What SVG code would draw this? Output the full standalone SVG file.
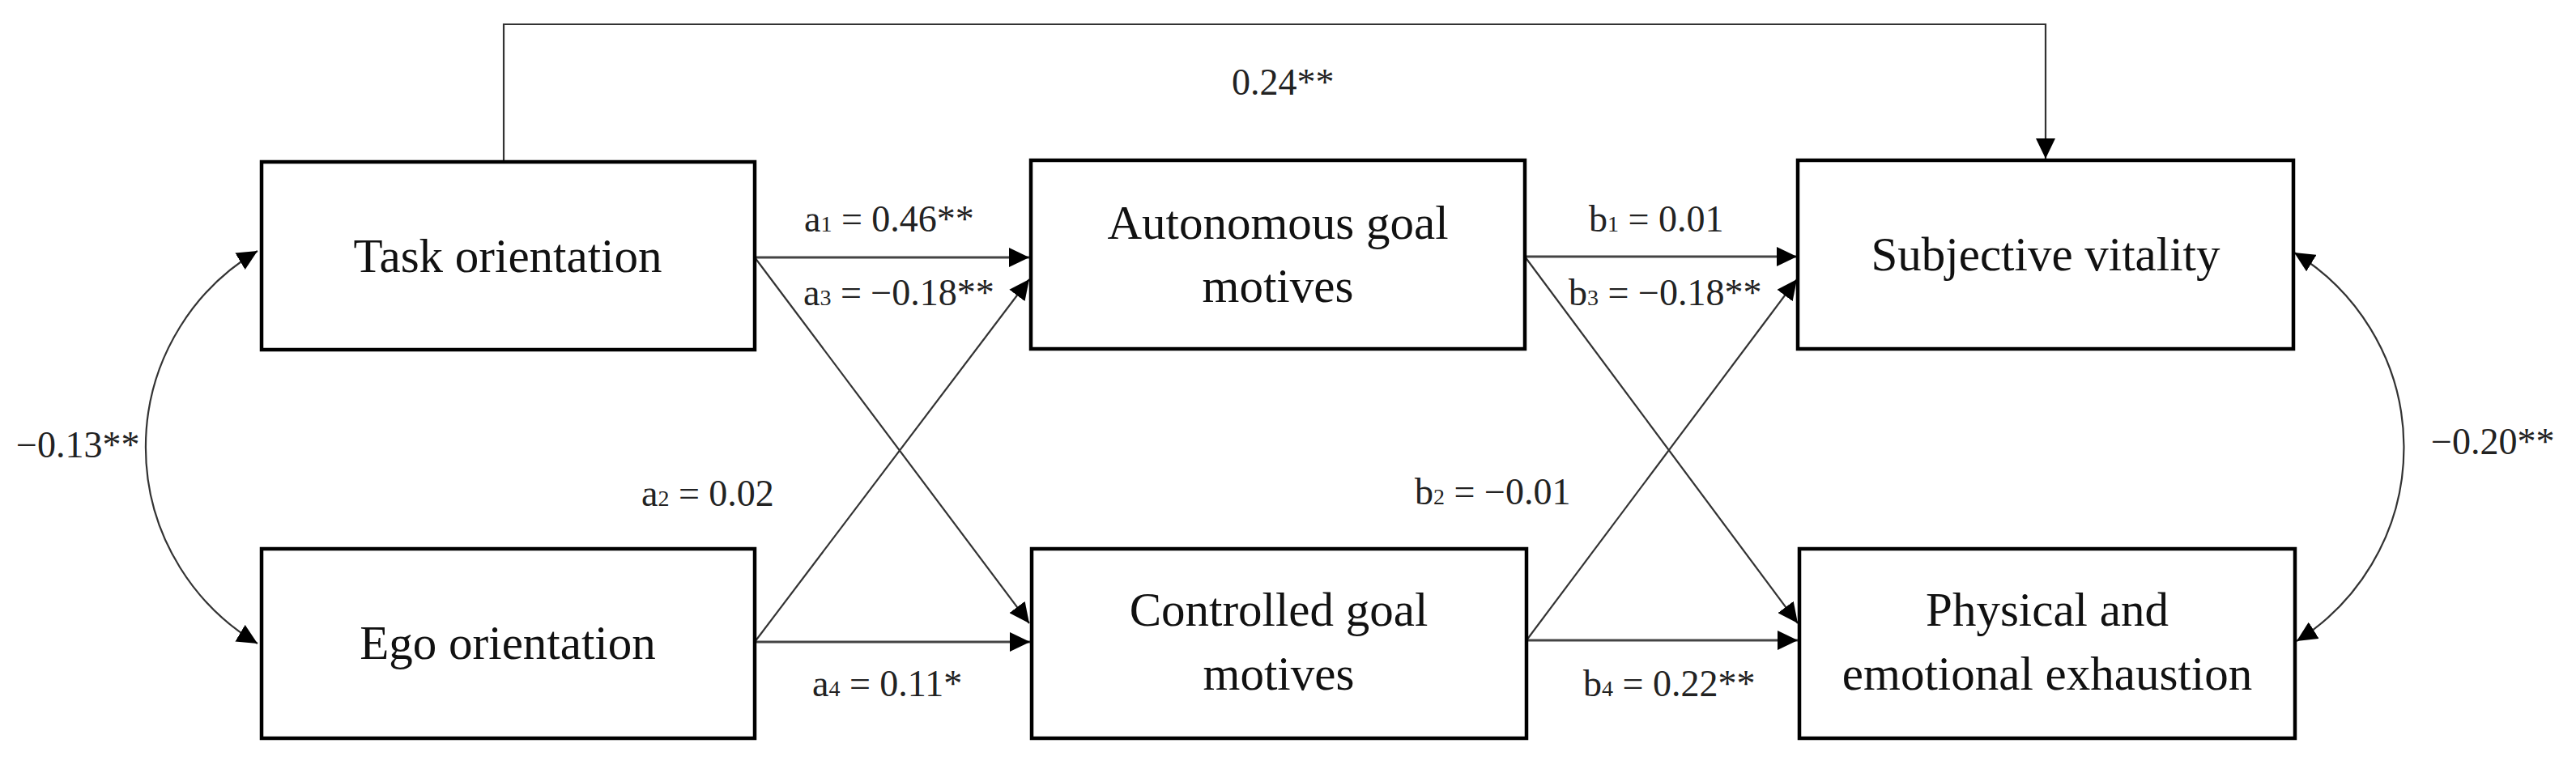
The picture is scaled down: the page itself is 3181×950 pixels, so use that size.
<svg xmlns="http://www.w3.org/2000/svg" width="3181" height="950" viewBox="0 0 3181 950">
<style>
.box{fill:#fff;stroke:#000;stroke-width:4.5}
.nt{font-family:"Liberation Serif",serif;font-size:59px;fill:#111;text-anchor:middle}
.lb{font-family:"Liberation Serif",serif;font-size:46px;fill:#222}
.sub{font-size:28px}
.ln{fill:none;stroke:#333;stroke-width:2.2}
.hl{fill:none;stroke:#444;stroke-width:3}
</style>
<defs>
<marker id="ah" viewBox="0 0 25 24" refX="25" refY="12" markerWidth="25" markerHeight="24" markerUnits="userSpaceOnUse" orient="auto-start-reverse">
<path d="M0,0 L25,12 L0,24 z" fill="#000"/>
</marker>
</defs>
<rect width="3181" height="950" fill="#fff"/>
<g id="connectors">
<path class="ln" d="M622,200 V30 H2526 V196" marker-end="url(#ah)"/>
<line class="hl" x1="932" y1="318" x2="1271" y2="318" marker-end="url(#ah)"/>
<line class="ln" x1="932" y1="318" x2="1271" y2="770" marker-end="url(#ah)"/>
<line class="ln" x1="932" y1="793" x2="1271" y2="345" marker-end="url(#ah)"/>
<line class="hl" x1="932" y1="793" x2="1272" y2="793" marker-end="url(#ah)"/>
<line class="hl" x1="1883" y1="317" x2="2219" y2="317" marker-end="url(#ah)"/>
<line class="ln" x1="1883" y1="317" x2="2220" y2="770" marker-end="url(#ah)"/>
<line class="ln" x1="1885" y1="791" x2="2219" y2="345" marker-end="url(#ah)"/>
<line class="hl" x1="1885" y1="791" x2="2220" y2="791" marker-end="url(#ah)"/>
<path class="ln" d="M318,310 A282,282 0 0 0 318,795" marker-start="url(#ah)" marker-end="url(#ah)"/>
<path class="ln" d="M2833,312 A282,282 0 0 1 2836,792" marker-start="url(#ah)" marker-end="url(#ah)"/>
</g>
<g id="labels">
<text class="lb" x="1521" y="117">0.24**</text>
<text class="lb" x="993" y="286">a<tspan class="sub">1</tspan> = 0.46**</text>
<text class="lb" x="992" y="377">a<tspan class="sub">3</tspan> = −0.18**</text>
<text class="lb" x="792" y="625">a<tspan class="sub">2</tspan> = 0.02</text>
<text class="lb" x="1003" y="860">a<tspan class="sub">4</tspan> = 0.11*</text>
<text class="lb" x="1962" y="286">b<tspan class="sub">1</tspan> = 0.01</text>
<text class="lb" x="1937" y="377">b<tspan class="sub">3</tspan> = −0.18**</text>
<text class="lb" x="1747" y="623">b<tspan class="sub">2</tspan> = −0.01</text>
<text class="lb" x="1955" y="860">b<tspan class="sub">4</tspan> = 0.22**</text>
<text class="lb" x="20" y="565">−0.13**</text>
<text class="lb" x="3002" y="561">−0.20**</text>
</g>
<g id="task">
<rect class="box" x="323" y="200" width="609" height="232"/>
<text class="nt" x="627" y="336">Task orientation</text>
</g>
<g id="ego">
<rect class="box" x="323" y="678" width="609" height="234"/>
<text class="nt" x="627" y="814">Ego orientation</text>
</g>
<g id="autonomous">
<rect class="box" x="1273" y="198" width="610" height="233"/>
<text class="nt" x="1578" y="295">Autonomous goal</text>
<text class="nt" x="1578" y="373">motives</text>
</g>
<g id="controlled">
<rect class="box" x="1274" y="678" width="611" height="234"/>
<text class="nt" x="1579" y="773">Controlled goal</text>
<text class="nt" x="1579" y="852">motives</text>
</g>
<g id="vitality">
<rect class="box" x="2220" y="198" width="612" height="233"/>
<text class="nt" x="2526" y="334">Subjective vitality</text>
</g>
<g id="exhaustion">
<rect class="box" x="2222" y="678" width="612" height="234"/>
<text class="nt" x="2528" y="773">Physical and</text>
<text class="nt" x="2528" y="852">emotional exhaustion</text>
</g>
</svg>
